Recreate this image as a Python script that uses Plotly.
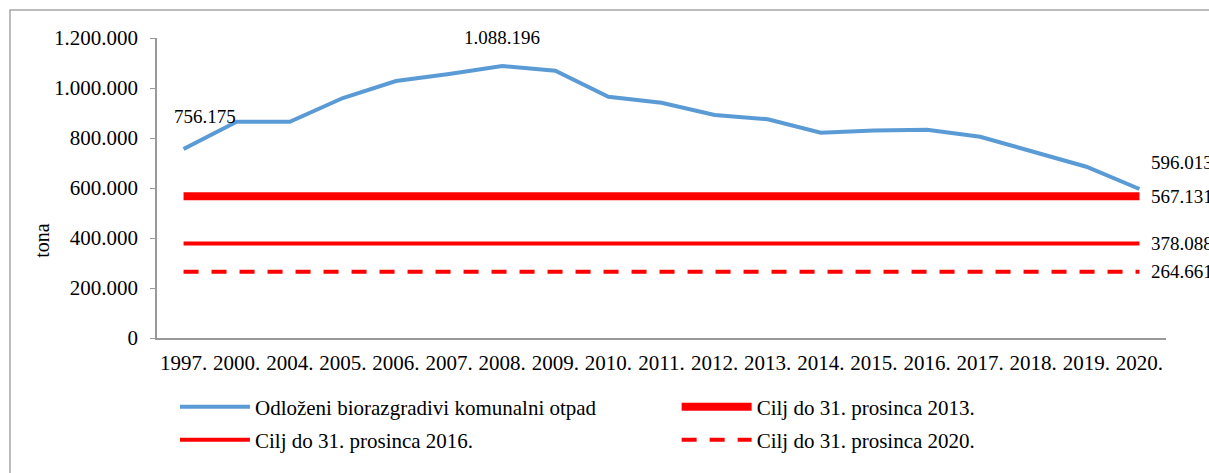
import plotly.graph_objects as go

years = ["1997.", "2000.", "2004.", "2005.", "2006.", "2007.", "2008.", "2009.", "2010.",
         "2011.", "2012.", "2013.", "2014.", "2015.", "2016.", "2017.", "2018.", "2019.", "2020."]
waste = [756175, 865000, 865000, 960000, 1028000, 1056000, 1088196, 1069000, 965000,
         941000, 892000, 875000, 821000, 830000, 833000, 805000, 745000, 685000, 596013]
target_2013 = 567131
target_2016 = 378088
target_2020 = 264661

names = ["Odloženi biorazgradivi komunalni otpad", "Cilj do 31. prosinca 2013.",
         "Cilj do 31. prosinca 2016.", "Cilj do 31. prosinca 2020."]

FONT = "Liberation Serif"


def fmt(v):
    return f"{v:,}".replace(",", ".")


fig = go.Figure()
fig.add_trace(go.Scatter(x=years, y=waste, mode="lines", name=names[0],
                         line=dict(color="#5B9BD5", width=4), legend="legend"))
fig.add_trace(go.Scatter(x=years, y=[target_2013] * len(years), mode="lines", name=names[1],
                         line=dict(color="#FF0000", width=8), legend="legend2"))
fig.add_trace(go.Scatter(x=years, y=[target_2016] * len(years), mode="lines", name=names[2],
                         line=dict(color="#FF0000", width=4), legend="legend3"))
fig.add_trace(go.Scatter(x=years, y=[target_2020] * len(years), mode="lines", name=names[3],
                         line=dict(color="#FF0000", width=4, dash="15px,13px"), legend="legend4"))

# data labels (x given as category index)
last = len(years) - 1
labels = [
    (0, waste[0], "center", 21, 32),
    (6, waste[6], "center", 0, 28),
    (last, waste[last], "left", 10, 27),
    (last, target_2013, "left", 10, 0),
    (last, target_2016, "left", 10, 0),
    (last, target_2020, "left", 10, 0),
]
for x, y, xa, xs, ys in labels:
    fig.add_annotation(x=x, y=y, xref="x", yref="y", text=fmt(y), showarrow=False,
                       xanchor=xa, yanchor="middle", xshift=xs, yshift=ys,
                       font=dict(family=FONT, size=19, color="black"))

# y-axis title
fig.add_annotation(text="tona", xref="paper", yref="paper", x=-0.114, y=0.327,
                   showarrow=False, textangle=-90, xanchor="center", yanchor="middle",
                   font=dict(family=FONT, size=20, color="black"))

# outer chart border
fig.add_shape(type="rect", xref="paper", yref="paper", x0=-0.1457, y0=-0.48, x1=1.06, y1=1.0933,
              line=dict(color="#A6A6A6", width=1.5), fillcolor="rgba(0,0,0,0)", layer="below")


def leg(x, y):
    return dict(orientation="h", x=x, xanchor="left", y=y, yanchor="middle",
                font=dict(family=FONT, size=21, color="black"),
                bgcolor="rgba(0,0,0,0)", itemwidth=70)


fig.update_layout(
    width=1209, height=473,
    margin=dict(l=157, r=43, t=38, b=135),
    paper_bgcolor="white", plot_bgcolor="white",
    separators=",.",
    font=dict(family=FONT, size=20, color="black"),
    showlegend=True,
    legend=leg(0.0178, -0.23),
    legend2=leg(0.515, -0.23),
    legend3=leg(0.0178, -0.34),
    legend4=leg(0.515, -0.34),
    xaxis=dict(type="category", range=[-0.5, len(years) - 0.5], showgrid=False,
               showline=True, linecolor="#999999", linewidth=1.5, ticks="",
               tickangle=0, tickfont=dict(family=FONT, size=21, color="black"),
               ticklabelstandoff=5),
    yaxis=dict(range=[0, 1200000], dtick=200000, tickformat=",d", showgrid=False,
               zeroline=False, showline=True, linecolor="#999999", linewidth=1.5,
               ticks="outside", ticklen=5, tickcolor="#999999",
               tickfont=dict(family=FONT, size=21, color="black"), ticklabelstandoff=8),
)

fig.write_html("out.html", config={"displayModeBar": False},
               post_script="document.body.style.margin='0';")
